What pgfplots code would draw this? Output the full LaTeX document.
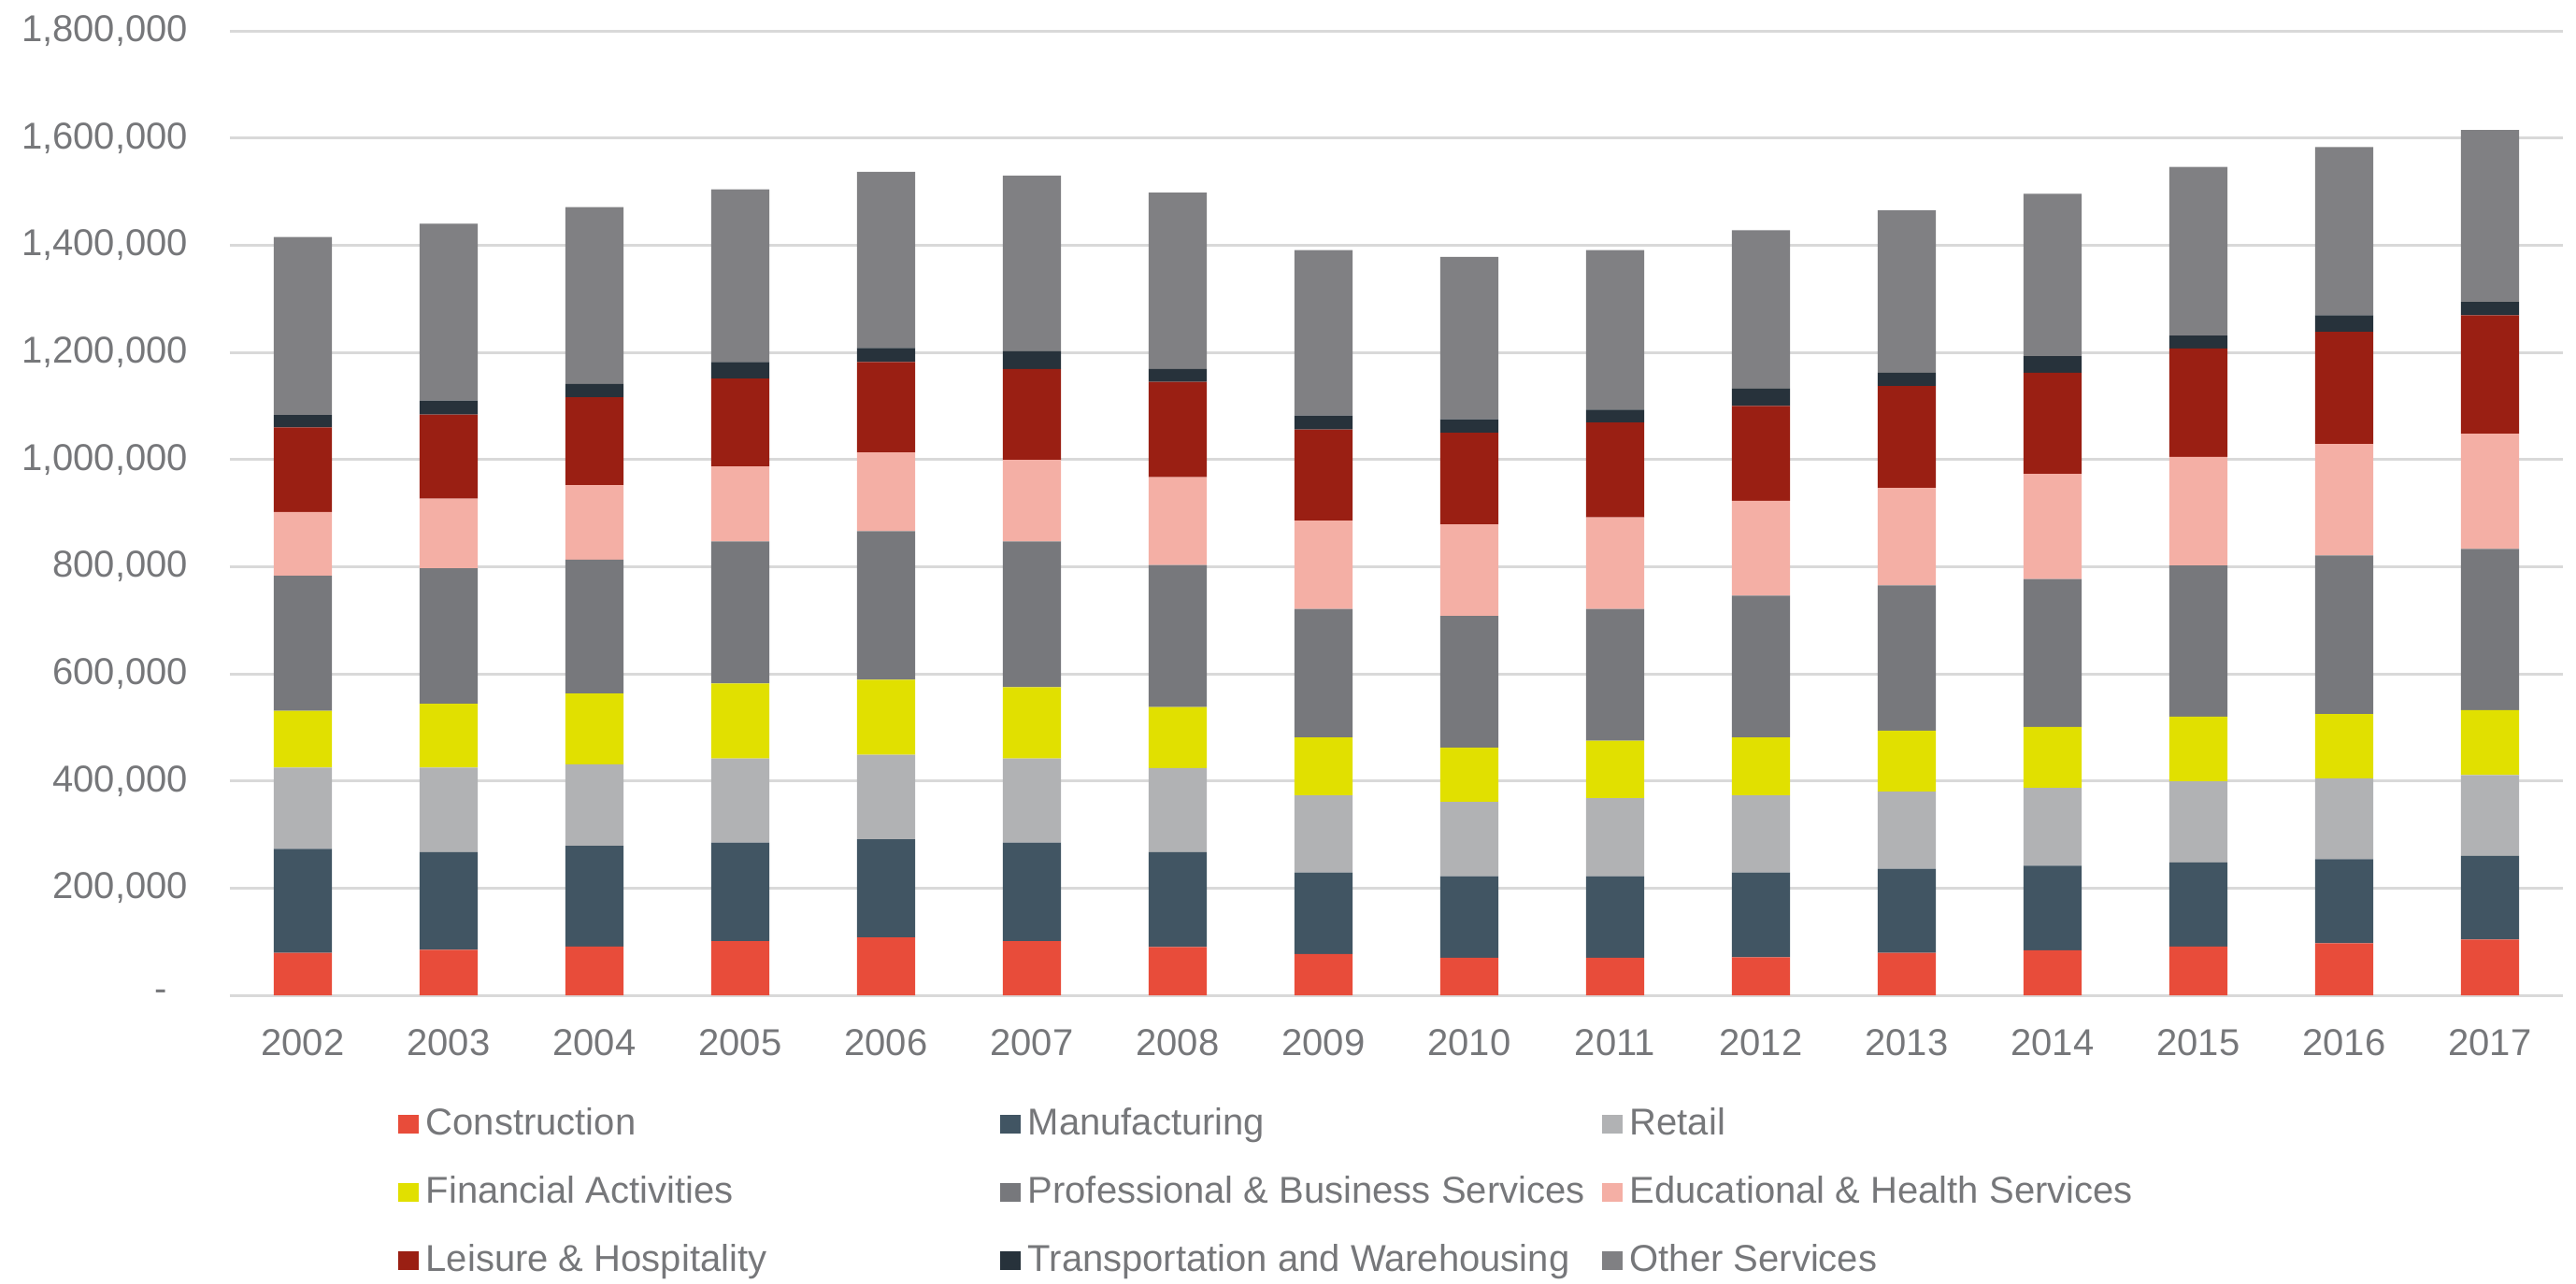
\documentclass[border=0pt]{standalone}
\usepackage{pgfplots}
\pgfplotsset{compat=1.18}
\usepackage{pgfplotstable}
\usepackage{fontspec}
\setmainfont{Liberation Sans}
\definecolor{txt}{HTML}{76777A}
\definecolor{cCon}{HTML}{E84C3A}
\definecolor{cMan}{HTML}{415563}
\definecolor{cRet}{HTML}{B1B2B4}
\definecolor{cFin}{HTML}{E1E000}
\definecolor{cPro}{HTML}{77787C}
\definecolor{cEdu}{HTML}{F4AFA5}
\definecolor{cLei}{HTML}{9A1F13}
\definecolor{cTra}{HTML}{27323B}
\definecolor{cOth}{HTML}{808083}
\definecolor{gridc}{HTML}{D9D9D9}

\pgfplotstableread{
x C M R F P E L T O
0 79000 194000 152000 106000 252000 119000 158000 23000 332000
1 85000 182000 158000 119000 253000 130000 157000 26000 330000
2 91000 188000 152000 132000 250000 139000 164000 25000 330000
3 101000 184000 157000 140000 265000 140000 164000 31000 322000
4 108000 183000 158000 140000 277000 147000 169000 26000 329000
5 101000 184000 157000 133000 272000 152000 170000 33000 328000
6 90000 177000 157000 114000 265000 164000 178000 24000 329000
7 77000 152000 144000 108000 240000 165000 170000 26000 309000
8 70000 152000 139000 101000 246000 171000 171000 25000 303000
9 70000 152000 146000 107000 246000 171000 177000 24000 298000
10 71000 158000 144000 108000 265000 177000 177000 32000 296000
11 79000 157000 144000 114000 271000 182000 190000 25000 303000
12 84000 158000 145000 114000 276000 196000 189000 31000 303000
13 91000 157000 151000 121000 282000 203000 202000 24000 315000
14 97000 157000 151000 120000 296000 208000 209000 31000 314000
15 104000 156000 151000 121000 301000 215000 221000 25000 321000
}\data

\newcommand{\legtxt}[1]{\makebox[151.5pt][l]{#1}}

\begin{document}
\begin{tikzpicture}
\path[use as bounding box] (-61.5pt,-77pt) rectangle (627.5pt,266.25pt);
\begin{axis}[
  at={(0,0)}, anchor=south west,
  scale only axis,
  width=624pt, height=258pt,
  xmin=-0.5, xmax=15.5,
  ymin=0, ymax=1800000,
  ybar stacked,
  bar width=15.6pt,
  xtick=data,
  xticklabels={2002,2003,2004,2005,2006,2007,2008,2009,2010,2011,2012,2013,2014,2015,2016,2017},
  ytick={0,200000,400000,600000,800000,1000000,1200000,1400000,1600000,1800000},
  yticklabels={{-\hspace*{5.5pt}},{200,000},{400,000},{600,000},{800,000},{1,000,000},{1,200,000},{1,400,000},{1,600,000},{1,800,000}},
  scaled y ticks=false,
  /pgf/number format/assume math mode=true,
  ymajorgrids,
  grid style={gridc, line width=0.75pt},
  axis line style={draw=none},
  major tick length=0pt,
  tick style={draw=none},
  ticklabel style={font=\fontsize{10}{12}\selectfont, text=txt},
  yticklabel style={xshift=-7.7pt},
  xticklabel style={yshift=-5.7pt},
  legend columns=3,
  legend style={draw=none, fill=none, inner sep=0pt, at={(0.0717,-0.2045)}, anchor=west,
    font=\fontsize{10}{12}\selectfont, text=txt,
    /tikz/every even column/.append style={column sep=0pt},
    row sep=5.5pt},
  legend image code/.code={\fill[#1] (0pt,-2.4pt) rectangle (5.5pt,2.4pt);},
  every axis plot/.append style={draw=none},
]
\addplot[fill=cCon] table[x=x,y=C]{\data}; \addlegendentry{\legtxt{Construction}}
\addplot[fill=cMan] table[x=x,y=M]{\data}; \addlegendentry{\legtxt{Manufacturing}}
\addplot[fill=cRet] table[x=x,y=R]{\data}; \addlegendentry{\legtxt{Retail}}
\addplot[fill=cFin] table[x=x,y=F]{\data}; \addlegendentry{\legtxt{Financial Activities}}
\addplot[fill=cPro] table[x=x,y=P]{\data}; \addlegendentry{\legtxt{Professional \& Business Services}}
\addplot[fill=cEdu] table[x=x,y=E]{\data}; \addlegendentry{\legtxt{Educational \& Health Services}}
\addplot[fill=cLei] table[x=x,y=L]{\data}; \addlegendentry{\legtxt{Leisure \& Hospitality}}
\addplot[fill=cTra] table[x=x,y=T]{\data}; \addlegendentry{\legtxt{Transportation and Warehousing}}
\addplot[fill=cOth] table[x=x,y=O]{\data}; \addlegendentry{\legtxt{Other Services}}
\end{axis}
\end{tikzpicture}
\end{document}
